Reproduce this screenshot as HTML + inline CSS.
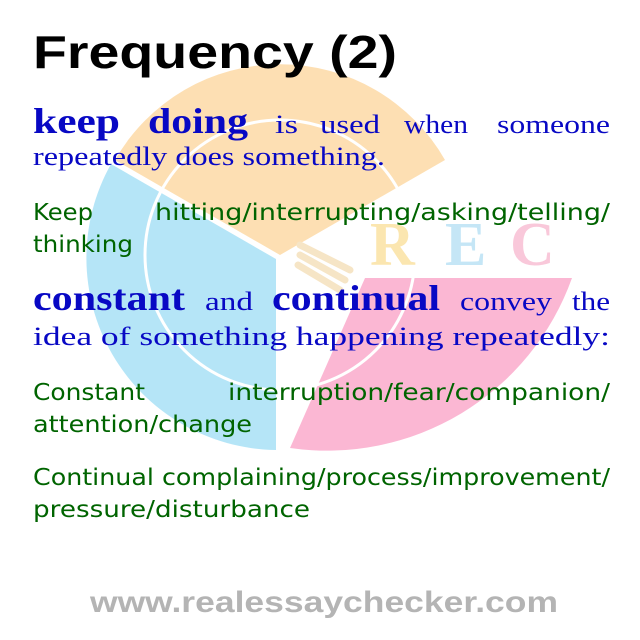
<!DOCTYPE html>
<html><head><meta charset="utf-8"><style>html,body{margin:0;padding:0;background:#fff}svg{display:block}</style></head>
<body>
<svg width="640" height="640" viewBox="0 0 640 640" xmlns="http://www.w3.org/2000/svg">
<rect width="640" height="640" fill="#fff"/>
<g opacity="0.9">
<path d="M280,255 L115,160 A190,190 0 0 1 445,160 Z" fill="#fddcab"/>
<path d="M276,259 L111,164 A192,192 0 0 0 276,450 Z" fill="#aee3f7"/>
<path d="M365,278 L572,278 A260,260 0 0 1 290,448 Z" fill="#fbb0cf"/>
<circle cx="280" cy="255" r="135" fill="none" stroke="#fff" stroke-width="3"/>
<path d="M300,245 L350,270 M300,255 L345,280 M298,265 L340,290" stroke="#f6e3c0" stroke-width="7" stroke-linecap="round"/>
<text x="370" y="265" font-family="Liberation Serif,serif" font-size="62" font-weight="bold" fill="#fbe4a8">R</text>
<text x="445" y="265" font-family="Liberation Serif,serif" font-size="62" font-weight="bold" fill="#bfe4f6">E</text>
<text x="510" y="265" font-family="Liberation Serif,serif" font-size="62" font-weight="bold" fill="#f9c3d6">C</text>
</g>
<g font-family="Liberation Sans,sans-serif" font-weight="bold" font-size="46" fill="#000">
<text x="33" y="68" textLength="364" lengthAdjust="spacingAndGlyphs">Frequency (2)</text>
</g>
<g font-family="Liberation Serif,serif" fill="#0808c4" lengthAdjust="spacingAndGlyphs">
<text x="33" y="133" font-size="36" font-weight="bold" textLength="87" lengthAdjust="spacingAndGlyphs">keep</text>
<text x="148" y="133" font-size="36" font-weight="bold" textLength="100" lengthAdjust="spacingAndGlyphs">doing</text>
<text x="275" y="133" font-size="26" textLength="23" lengthAdjust="spacingAndGlyphs">is</text>
<text x="320" y="133" font-size="26" textLength="60" lengthAdjust="spacingAndGlyphs">used</text>
<text x="404" y="133" font-size="26" textLength="64" lengthAdjust="spacingAndGlyphs">when</text>
<text x="497" y="133" font-size="26" textLength="113" lengthAdjust="spacingAndGlyphs">someone</text>
<text x="33" y="165" font-size="26" textLength="352" lengthAdjust="spacingAndGlyphs">repeatedly does something.</text>
<text x="33" y="310" font-size="36" font-weight="bold" textLength="152" lengthAdjust="spacingAndGlyphs">constant</text>
<text x="205" y="310" font-size="26" textLength="48" lengthAdjust="spacingAndGlyphs">and</text>
<text x="272" y="310" font-size="36" font-weight="bold" textLength="168" lengthAdjust="spacingAndGlyphs">continual</text>
<text x="460" y="310" font-size="26" textLength="92" lengthAdjust="spacingAndGlyphs">convey</text>
<text x="572" y="310" font-size="26" textLength="38" lengthAdjust="spacingAndGlyphs">the</text>
<text x="33" y="345" font-size="26" textLength="577" lengthAdjust="spacingAndGlyphs">idea of something happening repeatedly:</text>
</g>
<g font-family="DejaVu Sans,sans-serif" font-size="23" fill="#006400">
<text x="33" y="220" textLength="60" lengthAdjust="spacingAndGlyphs">Keep</text>
<text x="155" y="220" textLength="455" lengthAdjust="spacingAndGlyphs">hitting/interrupting/asking/telling/</text>
<text x="33" y="252" textLength="100" lengthAdjust="spacingAndGlyphs">thinking</text>
<text x="33" y="400" textLength="112" lengthAdjust="spacingAndGlyphs">Constant</text>
<text x="228" y="400" textLength="382" lengthAdjust="spacingAndGlyphs">interruption/fear/companion/</text>
<text x="33" y="432" textLength="219" lengthAdjust="spacingAndGlyphs">attention/change</text>
<text x="33" y="485" textLength="577" lengthAdjust="spacingAndGlyphs">Continual complaining/process/improvement/</text>
<text x="33" y="517" textLength="277" lengthAdjust="spacingAndGlyphs">pressure/disturbance</text>
</g>
<text x="90" y="612" font-family="Liberation Sans,sans-serif" font-weight="bold" font-size="30" fill="#b4b4b4" textLength="468" lengthAdjust="spacingAndGlyphs">www.realessaychecker.com</text>
</svg>
</body></html>
